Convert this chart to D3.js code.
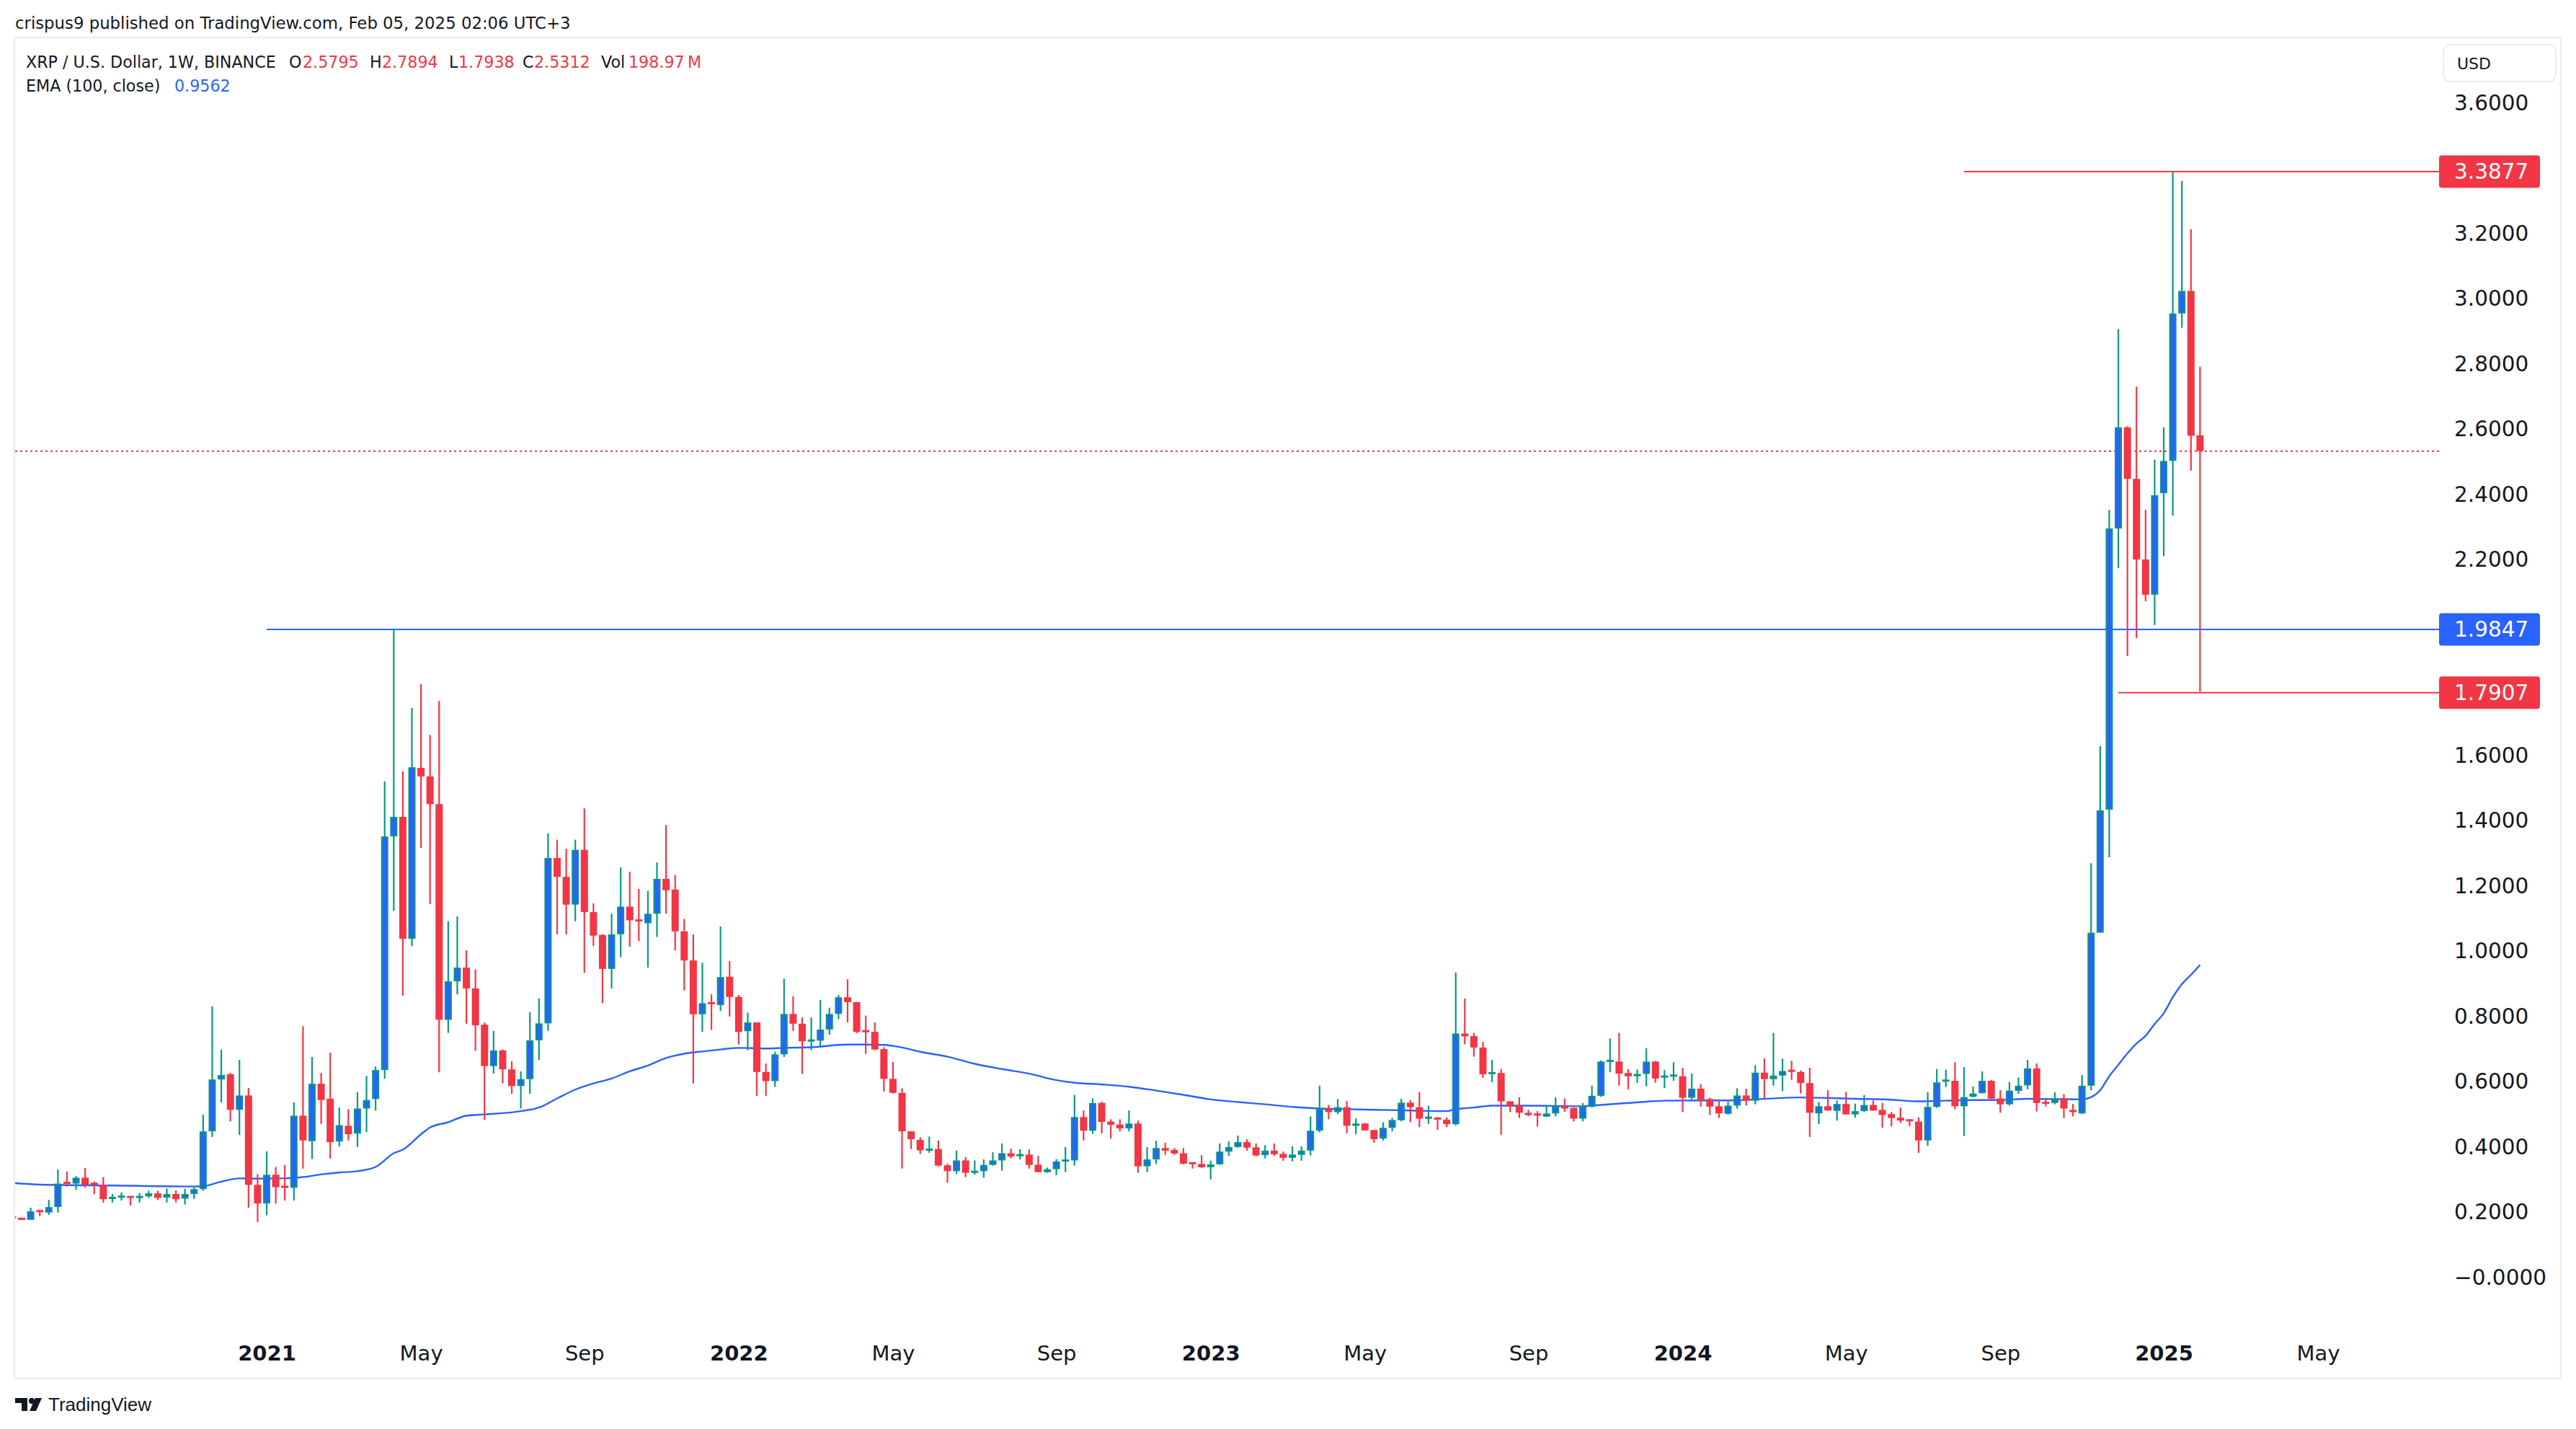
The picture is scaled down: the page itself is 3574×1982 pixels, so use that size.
<!DOCTYPE html>
<html>
<head>
<meta charset="utf-8">
<script src="https://cdn.jsdelivr.net/npm/d3@7"></script>
<style>
  body { margin: 0; background: #fff; }
  svg { display: block; }
</style>
</head>
<body>
<svg id="chart"></svg>
<script>
// weekly XRP/USD candles, first bar = week of 2020-06-22
var firstWeek = "2020-06-22";

var opens = [0.184,0.179,0.175,0.203,0.197,0.214,0.290,0.286,0.304,0.287,
 0.282,0.241,0.245,0.246,0.243,0.247,0.256,0.243,0.254,0.240,
 0.254,0.269,0.446,0.605,0.621,0.512,0.556,0.282,
 0.225,0.313,0.277,0.273,0.494,0.416,0.592,0.546,0.415,0.463,
 0.439,0.516,0.545,0.634,1.350,1.410,1.036,1.560,1.534,1.449,
 0.788,0.906,0.948,0.884,0.773,0.646,0.694,0.636,0.585,0.606,
 0.725,0.777,1.284,1.226,1.141,1.309,1.118,1.048,0.944,1.050,
 1.135,1.095,1.084,1.113,1.220,1.187,1.059,0.970,0.805,0.841,
 0.833,0.920,0.858,0.753,0.780,0.628,0.600,0.682,0.806,0.776,
 0.722,0.724,0.758,0.806,0.857,0.842,0.755,0.751,0.698,0.607,
 0.564,0.446,0.420,0.388,0.392,0.342,0.324,0.357,0.320,0.324,
 0.343,0.357,0.379,0.371,0.375,0.344,0.321,0.330,0.355,0.357,
 0.490,0.448,0.533,0.476,0.467,0.455,0.470,0.339,0.360,0.395,
 0.389,0.379,0.350,0.346,0.336,0.345,0.384,0.398,0.413,0.397,
 0.373,0.387,0.377,0.365,0.374,0.387,0.448,0.516,0.505,0.520,
 0.463,0.470,0.450,0.424,0.457,0.480,0.534,0.520,0.486,0.488,
 0.482,0.468,0.746,0.738,0.703,0.622,0.625,0.538,0.525,0.503,
 0.499,0.491,0.501,0.523,0.518,0.485,0.522,0.555,0.660,0.660,
 0.625,0.615,0.622,0.660,0.612,0.615,0.615,0.549,0.577,0.545,
 0.523,0.500,0.525,0.556,0.540,0.626,0.606,0.617,0.633,0.628,
 0.594,0.501,0.523,0.509,0.530,0.498,0.508,0.527,0.512,0.499,
 0.488,0.481,0.476,0.418,0.521,0.600,0.601,0.523,0.552,0.563,
 0.601,0.547,0.529,0.570,0.587,0.639,0.535,0.533,0.547,0.512,
 0.501,0.586,1.055,1.432,2.294,2.604,2.446,2.199,2.091,2.402,
 2.501,2.953,3.022,2.5795];

var highs = [0.187,0.180,0.212,0.206,0.236,0.329,0.323,0.309,0.334,0.292,
 0.306,0.254,0.259,0.247,0.257,0.264,0.264,0.271,0.265,0.270,
 0.278,0.497,0.829,0.696,0.625,0.665,0.579,0.315,
 0.385,0.337,0.343,0.535,0.768,0.674,0.625,0.687,0.519,0.514,
 0.566,0.616,0.645,1.518,1.9847,1.549,1.744,1.817,1.661,1.765,
 1.090,1.105,1.001,0.942,0.779,0.754,0.697,0.661,0.630,0.811,
 0.853,1.359,1.340,1.312,1.340,1.436,1.145,1.050,1.113,1.255,
 1.242,1.189,1.183,1.270,1.385,1.232,1.097,1.050,0.963,0.866,
 1.074,0.968,0.864,0.810,0.780,0.654,0.690,0.914,0.860,0.795,
 0.795,0.849,0.825,0.864,0.912,0.843,0.801,0.780,0.704,0.659,
 0.578,0.446,0.428,0.430,0.418,0.347,0.387,0.367,0.357,0.360,
 0.382,0.409,0.393,0.391,0.391,0.371,0.335,0.361,0.398,0.558,
 0.510,0.547,0.537,0.483,0.483,0.510,0.479,0.398,0.417,0.411,
 0.395,0.395,0.350,0.373,0.356,0.409,0.415,0.433,0.422,0.409,
 0.404,0.409,0.384,0.400,0.400,0.492,0.586,0.527,0.545,0.539,
 0.486,0.472,0.451,0.474,0.487,0.546,0.542,0.566,0.525,0.490,
 0.489,0.933,0.853,0.748,0.720,0.665,0.637,0.538,0.550,0.512,
 0.508,0.525,0.550,0.547,0.518,0.533,0.586,0.663,0.731,0.748,
 0.637,0.636,0.701,0.662,0.634,0.658,0.641,0.623,0.590,0.549,
 0.540,0.537,0.578,0.577,0.649,0.669,0.748,0.669,0.662,0.633,
 0.641,0.536,0.572,0.541,0.567,0.531,0.557,0.541,0.533,0.505,
 0.519,0.481,0.489,0.566,0.637,0.635,0.658,0.643,0.583,0.630,
 0.603,0.572,0.597,0.611,0.665,0.654,0.545,0.566,0.560,0.530,
 0.619,1.268,1.627,2.351,2.905,2.607,2.728,2.351,2.505,2.604,
 3.3877,3.359,3.211,2.7894];

var lows = [0.177,0.174,0.175,0.186,0.190,0.197,0.277,0.267,0.273,0.253,
 0.228,0.228,0.234,0.219,0.228,0.242,0.236,0.228,0.228,0.222,
 0.239,0.264,0.429,0.535,0.477,0.435,0.212,0.168,
 0.189,0.225,0.234,0.234,0.332,0.361,0.469,0.363,0.400,0.418,
 0.398,0.444,0.510,0.608,1.122,0.862,1.014,1.315,1.143,0.627,
 0.748,0.866,0.776,0.693,0.481,0.623,0.593,0.561,0.516,0.561,
 0.665,0.754,1.050,1.050,1.090,0.932,1.014,0.839,0.884,0.980,
 1.012,1.029,0.948,1.042,1.113,1.001,0.878,0.593,0.751,0.757,
 0.815,0.798,0.712,0.695,0.555,0.555,0.582,0.674,0.754,0.622,
 0.695,0.704,0.742,0.790,0.780,0.747,0.684,0.695,0.568,0.562,
 0.332,0.392,0.377,0.380,0.339,0.288,0.315,0.306,0.313,0.304,
 0.341,0.326,0.363,0.360,0.332,0.321,0.319,0.312,0.321,0.341,
 0.418,0.438,0.440,0.424,0.446,0.446,0.319,0.321,0.346,0.374,
 0.374,0.345,0.332,0.334,0.299,0.343,0.371,0.396,0.387,0.370,
 0.363,0.371,0.356,0.354,0.356,0.372,0.443,0.483,0.499,0.440,
 0.437,0.448,0.411,0.418,0.446,0.477,0.474,0.459,0.469,0.450,
 0.459,0.464,0.713,0.675,0.610,0.597,0.435,0.505,0.487,0.492,
 0.461,0.490,0.492,0.506,0.476,0.477,0.519,0.552,0.628,0.586,
 0.575,0.595,0.584,0.595,0.579,0.601,0.505,0.544,0.522,0.496,
 0.487,0.497,0.516,0.525,0.529,0.546,0.586,0.569,0.604,0.562,
 0.429,0.468,0.509,0.479,0.497,0.488,0.506,0.509,0.457,0.461,
 0.472,0.462,0.380,0.402,0.518,0.582,0.514,0.432,0.550,0.562,
 0.545,0.503,0.525,0.561,0.575,0.507,0.522,0.529,0.487,0.492,
 0.499,0.571,1.055,1.286,2.173,1.903,1.958,2.071,1.998,2.209,
 2.333,2.909,2.471,1.7938];

var closes = [0.181,0.177,0.201,0.200,0.214,0.286,0.286,0.304,0.282,0.284,
 0.238,0.243,0.247,0.244,0.247,0.256,0.242,0.254,0.238,0.254,
 0.269,0.446,0.605,0.619,0.512,0.556,0.282,0.225,
 0.313,0.275,0.275,0.494,0.418,0.592,0.542,0.413,0.465,0.437,
 0.516,0.542,0.634,1.350,1.410,1.036,1.562,1.534,1.449,0.788,
 0.906,0.948,0.884,0.771,0.646,0.694,0.636,0.585,0.606,0.725,
 0.777,1.284,1.226,1.141,1.309,1.118,1.046,0.944,1.050,1.135,
 1.093,1.090,1.113,1.220,1.185,1.059,0.970,0.805,0.839,0.837,
 0.919,0.858,0.751,0.780,0.628,0.600,0.682,0.806,0.776,0.722,
 0.727,0.758,0.806,0.857,0.842,0.751,0.751,0.697,0.607,0.564,
 0.446,0.422,0.388,0.392,0.341,0.324,0.357,0.319,0.324,0.343,
 0.357,0.379,0.369,0.375,0.343,0.321,0.330,0.354,0.358,0.490,
 0.448,0.533,0.475,0.466,0.455,0.470,0.339,0.360,0.395,0.387,
 0.378,0.347,0.347,0.336,0.345,0.384,0.398,0.413,0.396,0.372,
 0.387,0.376,0.365,0.375,0.387,0.448,0.516,0.505,0.520,0.463,
 0.470,0.449,0.422,0.457,0.481,0.534,0.520,0.485,0.490,0.482,
 0.468,0.746,0.737,0.703,0.621,0.627,0.538,0.522,0.503,0.496,
 0.496,0.501,0.523,0.516,0.485,0.522,0.555,0.660,0.664,0.623,
 0.615,0.622,0.660,0.608,0.616,0.619,0.549,0.577,0.544,0.522,
 0.501,0.525,0.556,0.540,0.626,0.606,0.617,0.631,0.630,0.594,
 0.503,0.523,0.510,0.530,0.498,0.508,0.527,0.510,0.496,0.487,
 0.479,0.479,0.418,0.521,0.596,0.603,0.523,0.551,0.562,0.601,
 0.546,0.529,0.571,0.586,0.639,0.533,0.532,0.546,0.516,0.505,
 0.586,1.055,1.430,2.294,2.604,2.446,2.199,2.091,2.396,2.501,
 2.953,3.022,2.578,2.5312];

var lastVolume = "198.97\u2009M";

// EMA(100): [bar index, value]
var emaPoints = [[0,0.288],[3,0.283],[11,0.280],[20,0.277],[21,0.278],[23,0.292],[25,0.302],[27,0.301],
 [30,0.302],[32,0.306],[34,0.314],[36,0.320],[38,0.324],[40,0.337],[42,0.379],[43,0.390],[45,0.437],
 [46,0.458],[48,0.474],[50,0.494],[52,0.498],[56,0.508],[58,0.519],[60,0.547],[62,0.574],[64,0.593],
 [66,0.608],[68,0.630],[70,0.648],[72,0.671],[74,0.684],[76,0.691],[78,0.697],[80,0.702],[83,0.700],
 [85,0.702],[88,0.704],[92,0.712],[94,0.712],[96,0.711],[98,0.703],[100,0.690],[103,0.675],[106,0.653],
 [109,0.637],[112,0.623],[115,0.603],[117,0.595],[120,0.590],[123,0.583],[126,0.571],[129,0.558],
 [132,0.544],[135,0.536],[138,0.529],[141,0.521],[144,0.516],[147,0.514],[150,0.512],[154,0.510],
 [158,0.508],[159,0.514],[161,0.519],[163,0.525],[166,0.525],[170,0.524],[173,0.523],[175,0.527],
 [178,0.533],[182,0.540],[186,0.541],[190,0.541],[192,0.544],[197,0.550],[199,0.549],[203,0.546],
 [207,0.543],[210,0.538],[213,0.540],[216,0.542],[219,0.542],[222,0.546],[225,0.545],[228,0.544],
 [229,0.551],[230,0.572],[231,0.615],[232,0.650],[233,0.685],[234,0.715],[235,0.739],[236,0.775],
 [237,0.808],[238,0.857],[239,0.897],[240,0.926],[241,0.9562]];

// drawn horizontal levels
var levelValues = [3.3877, 1.9847, 1.7907];
var levelStarts = ["2024-08-05", "2021-01-04", "2024-12-02"];
var levelColors = ["#f23645", "#2962ff", "#f23645"];

var yTickValues = [0, 0.2, 0.4, 0.6, 0.8, 1.0, 1.2, 1.4, 1.6, 2.2, 2.4, 2.6, 2.8, 3.0, 3.2, 3.6];
var xTickDates = ["2021-01-04","2021-05-03","2021-09-06","2022-01-03","2022-05-02","2022-09-05",
 "2023-01-02","2023-05-01","2023-09-04","2024-01-01","2024-05-06","2024-09-02","2025-01-06","2025-05-05"];
var xTickLabels = ["2021","May","Sep","2022","May","Sep","2023","May","Sep","2024","May","Sep","2025","May"];

var width = 3574, height = 1982;
var pane = {left: 21, right: 3384, top: 54, bottom: 1830};
var UP = "#2962ff", UP_EDGE = "#089981", DOWN = "#f23645", TEXT = "#131722";
var FONT = "'DejaVu Sans', sans-serif";

var parseDate = d3.utcParse("%Y-%m-%d");
var start = parseDate(firstWeek);

var x = d3.scaleUtc()
    .domain([parseDate("2021-01-04"), parseDate("2025-01-06")])
    .range([370, 3002]);
var y = d3.scaleLinear()
    .domain([0, 3.6])
    .range([1771, 142]);

var bars = closes.map(function(c, i) {
    return {date: d3.utcDay.offset(start, 7 * i), o: opens[i], h: highs[i], l: lows[i], c: c};
});

var chart = d3.select('#chart')
    .attr('width', width)
    .attr('height', height)
    .attr('viewBox', [0, 0, width, height]);

chart.append("rect")
    .attr("width", width)
    .attr("height", height)
    .attr("fill", "white");

// header
chart.append("text")
    .attr("x", 21)
    .attr("y", 32)
    .attr("dominant-baseline", "central")
    .style("font-family", FONT)
    .style("font-size", "22.8px")
    .attr("fill", TEXT)
    .text("crispus9 published on TradingView.com, Feb 05, 2025 02:06 UTC+3");

// outer frame
chart.append("rect")
    .attr("x", 20)
    .attr("y", 52)
    .attr("width", 3533)
    .attr("height", 1860)
    .attr("fill", "none")
    .attr("stroke", "#eceef2")
    .attr("stroke-width", 2.5);

chart.append("clipPath")
    .attr("id", "pane-clip")
    .append("rect")
    .attr("x", pane.left)
    .attr("y", pane.top)
    .attr("width", pane.right - pane.left)
    .attr("height", pane.bottom - pane.top);

var plot = chart.append("g").attr("clip-path", "url(#pane-clip)");

// last close dotted line
plot.append("line")
    .attr("x1", pane.left)
    .attr("x2", pane.right)
    .attr("y1", y(closes[closes.length - 1]))
    .attr("y2", y(closes[closes.length - 1]))
    .attr("stroke", DOWN)
    .attr("stroke-width", 2)
    .attr("stroke-dasharray", "3,4");

// drawn levels
plot.selectAll(".level")
    .data(levelValues)
    .enter()
    .append("line")
        .attr("class", "level")
        .attr("x1", (d, i) => x(parseDate(levelStarts[i])))
        .attr("x2", pane.right)
        .attr("y1", d => y(d))
        .attr("y2", d => y(d))
        .attr("stroke", (d, i) => levelColors[i])
        .attr("stroke-width", 2);

// EMA
var emaLine = d3.line()
    .x(d => x(d3.utcDay.offset(start, 7 * d[0])))
    .y(d => y(d[1]))
    .curve(d3.curveMonotoneX);

plot.append("path")
    .datum(emaPoints)
    .attr("fill", "none")
    .attr("stroke", "#2962ff")
    .attr("stroke-width", 2.4)
    .attr("d", emaLine);

// candles
var candle = plot.append("g")
    .selectAll("g")
    .data(bars)
    .enter()
    .append("g");

candle.append("line")
    .attr("x1", d => x(d.date))
    .attr("x2", d => x(d.date))
    .attr("y1", d => y(d.h))
    .attr("y2", d => y(d.l))
    .attr("stroke", d => d.c >= d.o ? UP_EDGE : DOWN)
    .attr("stroke-width", 2.2);

candle.append("rect")
    .attr("x", d => x(d.date) - 4)
    .attr("width", 8)
    .attr("y", function(d) {
        var top = y(Math.max(d.o, d.c)), bot = y(Math.min(d.o, d.c));
        if (bot - top < 3) { var m = (top + bot) / 2; top = m - 1.5; bot = m + 1.5; }
        return top + 1;
    })
    .attr("height", function(d) {
        var top = y(Math.max(d.o, d.c)), bot = y(Math.min(d.o, d.c));
        return Math.max(bot - top - 2, 1);
    })
    .attr("fill", d => d.c >= d.o ? UP : DOWN)
    .attr("stroke", d => d.c >= d.o ? UP_EDGE : DOWN)
    .attr("stroke-width", 2);

// legend
var fmt = d3.format(".4f");
var last = bars[bars.length - 1];
var legend1 = [
    {t: "XRP / U.S. Dollar, 1W, BINANCE", x: 36, c: TEXT},
    {t: "O", x: 401, c: TEXT}, {t: fmt(last.o), x: 420, c: DOWN},
    {t: "H", x: 513, c: TEXT}, {t: fmt(last.h), x: 530, c: DOWN},
    {t: "L", x: 623, c: TEXT}, {t: fmt(last.l), x: 636, c: DOWN},
    {t: "C", x: 725, c: TEXT}, {t: fmt(last.c), x: 741, c: DOWN},
    {t: "Vol", x: 834, c: TEXT}, {t: lastVolume, x: 872, c: DOWN}
];
var legend2 = [
    {t: "EMA (100, close)", x: 36, c: TEXT},
    {t: fmt(emaPoints[emaPoints.length - 1][1]), x: 242, c: "#2962ff"}
];

chart.append("g")
    .selectAll("text")
    .data(legend1.map(d => Object.assign({y: 86}, d)).concat(legend2.map(d => Object.assign({y: 119}, d))))
    .enter()
    .append("text")
        .attr("x", d => d.x)
        .attr("y", d => d.y)
        .attr("dominant-baseline", "central")
        .style("font-family", FONT)
        .style("font-size", "22.2px")
        .attr("fill", d => d.c)
        .text(d => d.t);

// y axis
var yAxis = chart.append("g")
    .attr("transform", "translate(3405,0)")
    .call(d3.axisRight(y)
        .tickValues(yTickValues)
        .tickSize(0)
        .tickPadding(0)
        .tickFormat(d => d === 0 ? "\u22120.0000" : d3.format(".4f")(d)));
yAxis.select(".domain").remove();
yAxis.selectAll("text")
    .attr("dy", null)
    .attr("dominant-baseline", "central")
    .style("font-family", FONT)
    .style("font-size", "29.5px")
    .attr("fill", TEXT);

// USD box
chart.append("rect")
    .attr("x", 3390)
    .attr("y", 62)
    .attr("width", 156)
    .attr("height", 51)
    .attr("rx", 9)
    .attr("fill", "white")
    .attr("stroke", "#e6e8ec")
    .attr("stroke-width", 1.5);
chart.append("text")
    .attr("x", 3409)
    .attr("y", 88)
    .attr("dominant-baseline", "central")
    .style("font-family", FONT)
    .style("font-size", "22px")
    .attr("fill", TEXT)
    .text("USD");

// level labels
var tags = chart.append("g")
    .selectAll("g")
    .data(levelValues)
    .enter()
    .append("g");
tags.append("rect")
    .attr("x", 3384)
    .attr("y", d => y(d) - 22.5)
    .attr("width", 140)
    .attr("height", 45)
    .attr("rx", 4)
    .attr("fill", (d, i) => levelColors[i]);
tags.append("text")
    .attr("x", 3405)
    .attr("y", d => y(d))
    .attr("dominant-baseline", "central")
    .style("font-family", FONT)
    .style("font-size", "29.5px")
    .attr("fill", "white")
    .text(d => fmt(d));

// x axis
var xAxis = chart.append("g")
    .attr("transform", "translate(0,1866)")
    .call(d3.axisBottom(x)
        .tickValues(xTickDates.map(parseDate))
        .tickSize(0)
        .tickPadding(0)
        .tickFormat((d, i) => xTickLabels[i]));
xAxis.select(".domain").remove();
xAxis.selectAll("text")
    .style("font-family", FONT)
    .style("font-size", "29px")
    .attr("font-weight", (d, i) => xTickLabels[i].length === 4 ? "bold" : "normal")
    .attr("fill", TEXT);

// TradingView mark
var logo = chart.append("g").attr("fill", TEXT);
logo.append("path").attr("d", "M21,1939 H38 V1957 H30 V1946 H21 Z");
logo.append("circle").attr("cx", 44).attr("cy", 1943).attr("r", 4.2);
logo.append("path").attr("d", "M49,1939 H58 L50,1957 H41 Z");
logo.append("text")
    .attr("x", 67)
    .attr("y", 1948)
    .attr("dominant-baseline", "central")
    .style("font-family", "'Liberation Sans', Arial, sans-serif")
    .style("font-size", "26px")
    .attr("fill", TEXT)
    .text("TradingView");
</script>
</body>
</html>
